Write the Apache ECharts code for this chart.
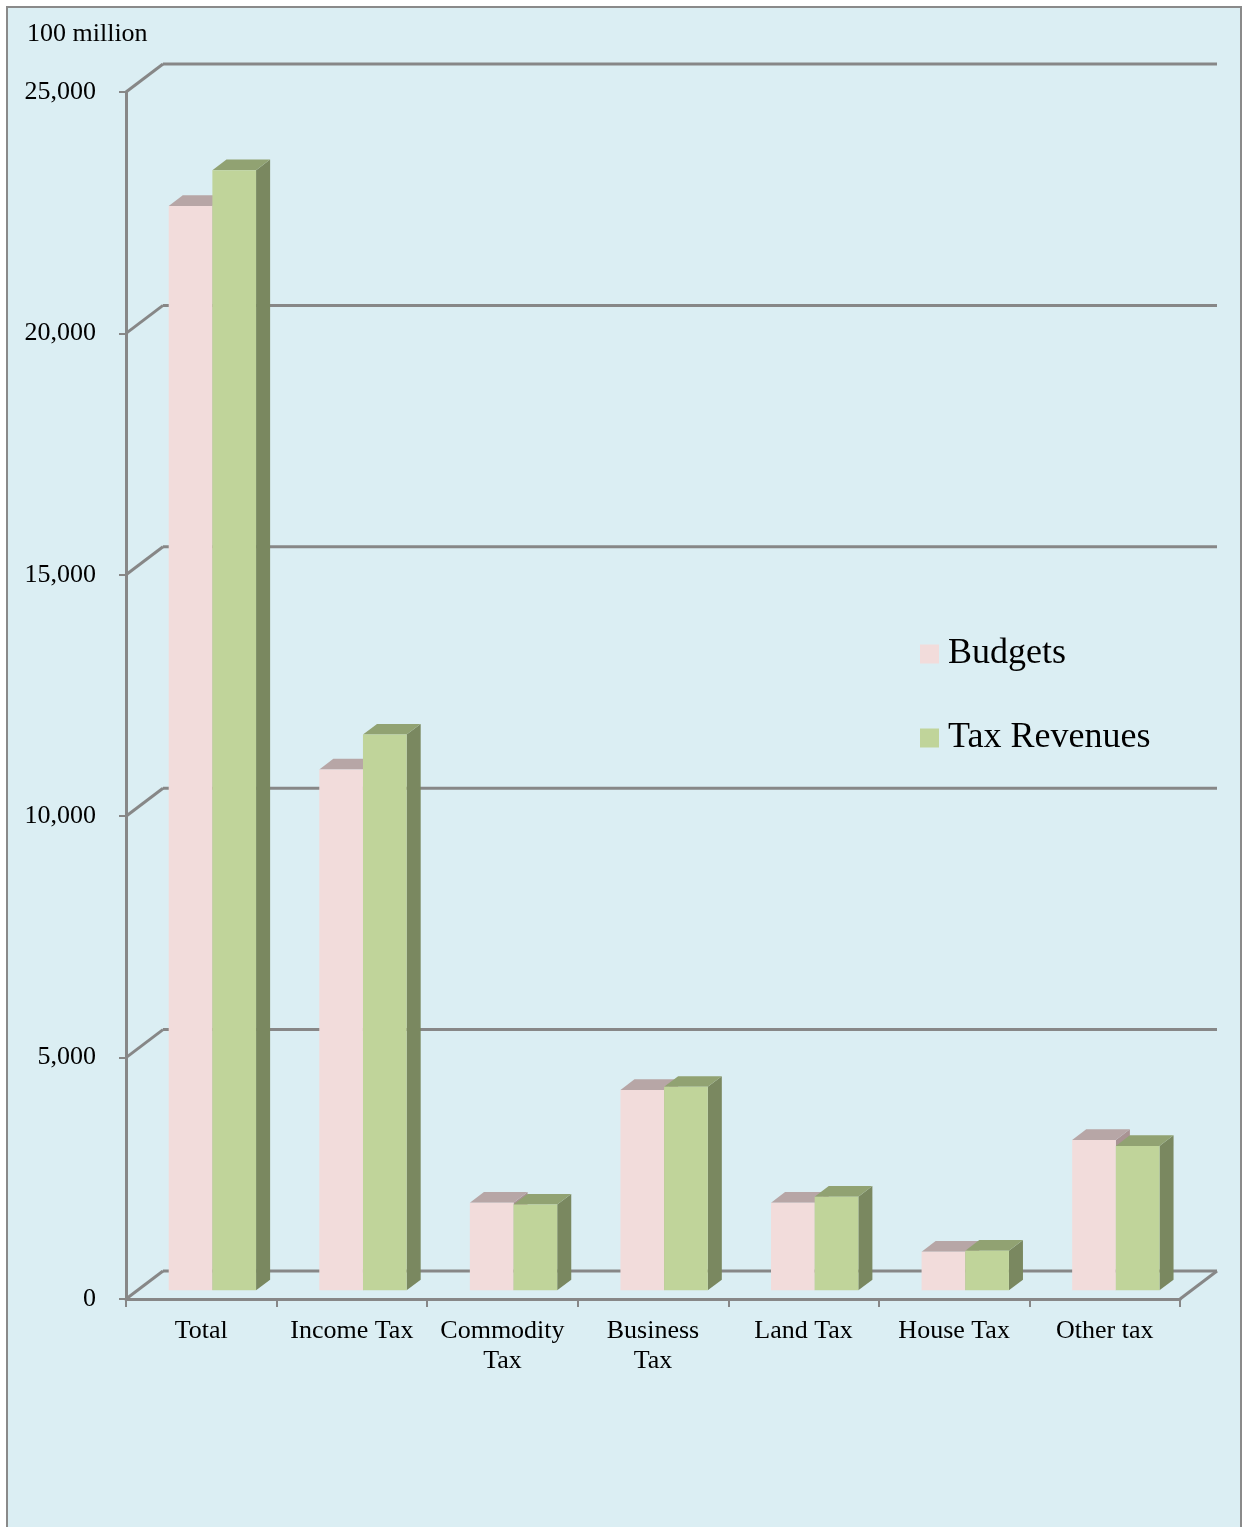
<!DOCTYPE html>
<html><head><meta charset="utf-8">
<script src="https://cdn.jsdelivr.net/npm/echarts@6/dist/echarts.min.js"></script>
<style>
html,body{margin:0;padding:0;background:#fff;overflow:hidden;width:1243px;height:1527px}
#frame{position:absolute;left:6px;top:6px;width:1232px;height:1540px;background:#DBEEF3;border:2px solid #8a8a8a;}
#chart{position:absolute;left:0;top:0;width:1243px;height:1527px}
</style></head><body>
<div id="frame"></div><div id="chart"></div>
<script>
const categories = ['Total','Income Tax','Commodity\nTax','Business\nTax','Land Tax','House Tax','Other tax'];
const budgets = [22460, 10790, 1815, 4150, 1815, 800, 3115];
const taxRevenues = [23200, 11510, 1775, 4215, 1940, 820, 2990];
const yTicks = [0, 5000, 10000, 15000, 20000, 25000];
const seriesNames = ['Budgets', 'Tax Revenues'];

const FONT = '"Liberation Serif","Times New Roman",serif';
const GRIDC = '#878787';
const DX = 37, DY = -28;
const FACES = [
  {front: '#F2DCDB', top: '#B7A6A6', side: '#A99393'},
  {front: '#C0D49A', top: '#91A272', side: '#7A8860'}
];

function frameItem(params, api) {
  const v = api.value(1);
  const y = api.coord([0, v])[1];
  const cs = params.coordSys;
  const x0 = cs.x, x1 = cs.x + cs.width;
  const st = {stroke: GRIDC, lineWidth: 3, fill: null};
  const ch = [
    {type: 'line', shape: {x1: x0, y1: y, x2: x0 + DX, y2: y + DY}, style: st},
    {type: 'line', shape: {x1: x0 + DX, y1: y + DY, x2: x1 + DX, y2: y + DY}, style: st}
  ];
  if (v === 0) ch.push({type: 'line', shape: {x1: x1, y1: y, x2: x1 + DX, y2: y + DY}, style: st});
  return {type: 'group', children: ch};
}

function barItem(sIdx) {
  return function (params, api) {
    const i = api.value(0), v = api.value(1);
    const top = api.coord([i, v]);
    const base = api.coord([i, 0]);
    const band = api.size([1, 0])[0];
    const bw = band * 0.29;
    const fx = DX * 0.30, fy = DY * 0.31;
    const bx = DX * 0.38, by = DY * 0.38;
    const cx = top[0] + fx;
    const xl = sIdx === 0 ? cx - bw : cx;
    const xr = xl + bw;
    const yt = top[1] + fy, yb = base[1] + fy;
    const f = FACES[sIdx];
    return {type: 'group', children: [
      {type: 'polygon', shape: {points: [[xr, yt], [xr + bx, yt + by], [xr + bx, yb + by], [xr, yb]]}, style: {fill: f.side}},
      {type: 'polygon', shape: {points: [[xl, yt], [xr, yt], [xr + bx, yt + by], [xl + bx, yt + by]]}, style: {fill: f.top}},
      {type: 'rect', shape: {x: xl, y: yt, width: bw, height: yb - yt}, style: {fill: f.front}}
    ]};
  };
}

const chart = echarts.init(document.getElementById('chart'), null, {renderer: 'canvas'});
chart.setOption({
  backgroundColor: 'transparent',
  animation: false,
  title: {text: '100 million', left: 27, top: 21, padding: 0,
    textStyle: {fontFamily: FONT, fontSize: 26, fontWeight: 'normal', color: '#000'}},
  legend: {
    data: seriesNames, orient: 'vertical', left: 920, top: 634, padding: 0,
    icon: 'rect', itemWidth: 19, itemHeight: 19, itemGap: 44,
    textStyle: {fontFamily: FONT, fontSize: 36, color: '#000', lineHeight: 40, padding: [0, 0, 0, 4]}
  },
  grid: {left: 126, top: 92, width: 1054, height: 1207},
  xAxis: {
    type: 'category', data: categories,
    axisLine: {show: true, lineStyle: {color: GRIDC, width: 3}},
    axisTick: {show: true, length: 8, lineStyle: {color: GRIDC, width: 2}},
    axisLabel: {interval: 0, fontFamily: FONT, fontSize: 26, lineHeight: 30, color: '#000', margin: 17},
    splitLine: {show: false}
  },
  yAxis: {
    type: 'value', min: 0, max: 25000, interval: 5000,
    axisLine: {show: true, lineStyle: {color: GRIDC, width: 3}},
    axisTick: {show: true, length: 7, lineStyle: {color: GRIDC, width: 2}},
    axisLabel: {fontFamily: FONT, fontSize: 26, color: '#000', margin: 30,
      formatter: v => v.toLocaleString('en-US')},
    splitLine: {show: false}
  },
  series: [
    {type: 'custom', name: '_frame', data: yTicks.map(v => [0, v]), renderItem: frameItem, clip: false, z: 1, silent: true},
    {type: 'custom', name: seriesNames[0], data: budgets.map((v, i) => [i, v]), renderItem: barItem(0), clip: false, z: 3,
      itemStyle: {color: FACES[0].front}},
    {type: 'custom', name: seriesNames[1], data: taxRevenues.map((v, i) => [i, v]), renderItem: barItem(1), clip: false, z: 4,
      itemStyle: {color: FACES[1].front}}
  ]
});
</script>
</body></html>
